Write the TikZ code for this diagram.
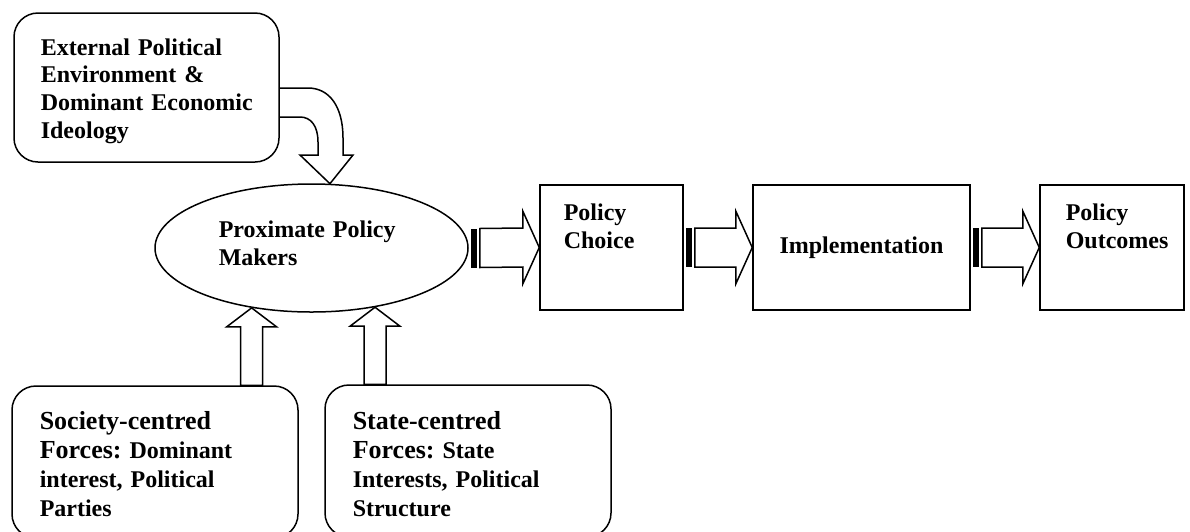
\documentclass[tikz,border=0pt]{standalone}
\usepackage{fontspec}
\setmainfont{Liberation Serif}
\usetikzlibrary{shapes.geometric,calc}
\frenchspacing
\newcommand{\bigf}{\fontsize{26}{29}\selectfont}
\newcommand{\stripedarrow}[2]{%
  \fill ($(#1.east)+(2,-19.5)$) rectangle ($(#1.east)+(8,19.5)$);
  \draw[blk] ($(#1.east)+(11,-19.5)$) -- ($(#2.west)+(-16.5,-19.5)$)
    -- ($(#2.west)+(-16.5,-36.5)$) -- (#2.west)
    -- ($(#2.west)+(-16.5,36.5)$) -- ($(#2.west)+(-16.5,19.5)$)
    -- ($(#1.east)+(11,19.5)$) -- cycle;}
\newcommand{\uparrowblock}[2]{%
  \draw[blk] (#1) -- ++(25,19) -- ++(-14,0) -- ($(#1 |- #2.north)+(11,0)$)
    -- ($(#1 |- #2.north)+(-11,0)$) -- ($(#1)+(-11,19)$) -- ++(-14,0) -- cycle;}
\begin{document}
\begin{tikzpicture}[x=1pt,y=-1pt, line width=1.5pt, line join=miter,
  rbox/.style={draw, rounded corners=24pt, inner sep=0pt},
  sbox/.style={draw, inner sep=0pt, minimum height=125pt},
  txt/.style={anchor=base west, inner sep=0pt, align=left, text width=280pt,
    font=\bfseries\frenchspacing\fontsize{24}{28}\selectfont},
  txtb/.style={anchor=base west, inner sep=0pt, align=left, text width=280pt,
    font=\bfseries\frenchspacing\fontsize{24}{29}\selectfont},
  blk/.style={draw, fill=white, line width=1.5pt, line join=miter}]
\useasboundingbox (0,0) rectangle (1190,531);

% top-left box
\node[rbox, minimum width=265pt, minimum height=149pt] (ext) at (146.5,87.5) {};
\node[txt, font=\bfseries\frenchspacing\fontsize{24}{27.7}\selectfont] (extT) at (40,55)
  {External Political\\Environment \&\\Dominant Economic\\Ideology};

% ellipse
\node[draw, ellipse, inner sep=0pt, minimum width=313pt, minimum height=128pt] (pm) at (311.5,248) {};
\node[txt] (pmT) at (218,237) {Proximate Policy\\Makers};

% chain boxes
\node[sbox, minimum width=143pt] (pc) at (611.5,247.5) {};
\node[sbox, minimum width=217pt, font=\bfseries\fontsize{24}{28}\selectfont] (impl) at (861.5,247.5) {Implementation};
\node[sbox, minimum width=144pt] (out) at (1112,247.5) {};
\node[txt] (pcT) at (563,220) {Policy\\Choice};
\node[txt] (outT) at (1065,220) {Policy\\Outcomes};

% bottom boxes
\node[rbox, minimum width=286pt, minimum height=152pt] (soc) at (155,462) {};
\node[rbox, minimum width=286pt, minimum height=152pt] (sta) at (468,461) {};
\node[txtb] (socT) at (39,429) {{\bigf Society-centred}\\{\bigf Forces:} Dominant\\interest, Political\\Parties};
\node[txtb] (staT) at (352,429) {{\bigf State-centred}\\{\bigf Forces:} State\\Interests, Political\\Structure};

% horizontal striped arrows
\stripedarrow{pm}{pc}
\stripedarrow{pc}{impl}
\stripedarrow{impl}{out}

% vertical arrows
\coordinate (ta) at (pm.225);
\coordinate (tb) at (pm.317);
\uparrowblock{ta}{soc}
\uparrowblock{tb}{sta}

% curved arrow
\coordinate (tc) at (pm.74);
\draw[blk, fill=none] ($(ext.east)+(0,0.5)$) -- (308,88)
  .. controls (329,88) and (343,106) .. (343,138) -- (343,155)
  -- (353,155) -- (tc) -- (300,155) -- (318,155) -- (318,142)
  .. controls (318,126) and (311,117) .. (300,117) -- ($(ext.east)+(0,29.5)$);
\end{tikzpicture}
\end{document}
